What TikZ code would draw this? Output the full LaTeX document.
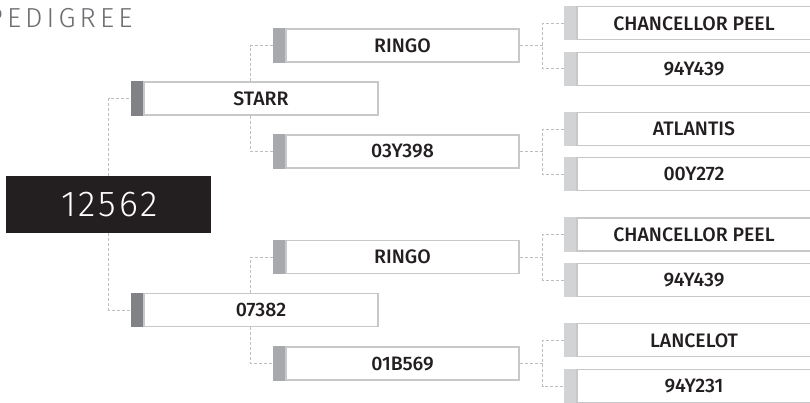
\documentclass[tikz,border=0pt]{standalone}
\usepackage{fontspec}
\setmainfont{Fira Sans}
\newfontfamily\lightfont{Fira Sans Light}
\newfontfamily\rootfont[LetterSpace=8]{Fira Sans Light}
\newfontfamily\titlefont[LetterSpace=15]{Fira Sans Light}
\newfontfamily\medfont{Fira Sans Medium}
\definecolor{titlegray}{HTML}{6D6E71}
\definecolor{tabdark}{HTML}{808285}
\definecolor{tabmid}{HTML}{A7A9AC}
\definecolor{tablight}{HTML}{D1D3D4}
\definecolor{boxline}{HTML}{C7C8CA}
\definecolor{dashcol}{HTML}{BCBEC0}
\definecolor{inkblack}{HTML}{231F20}
\tikzset{
  namebox/.style={draw=boxline, line width=1.1pt, fill=white, minimum height=33pt,
    inner sep=0pt, text=inkblack, font=\medfont\fontsize{19.5}{22}\selectfont},
  leftbox/.style={namebox, minimum width=234pt},
  midbox/.style={namebox, minimum width=233pt},
  rightbox/.style={namebox, minimum width=234pt},
  tabbox/.style={inner sep=0pt, minimum width=12pt, minimum height=34.1pt, anchor=east},
  tabL/.style={tabbox, fill=tabdark},
  tabM/.style={tabbox, fill=tabmid},
  tabR/.style={tabbox, fill=tablight},
  conn/.style={draw=dashcol, line width=0.9pt, dash pattern=on 3pt off 2pt},
  rootbox/.style={fill=inkblack, minimum width=205pt, minimum height=57pt, inner sep=0pt,
    text=white, font=\rootfont\fontsize{36}{40}\selectfont},
}
\begin{document}
\begin{tikzpicture}[x=1pt,y=-1pt]
\clip (0,0) rectangle (810,402);
\fill[white] (0,0) rectangle (810,402);

% title
\node[anchor=base west, inner sep=0pt, text=titlegray, font=\titlefont\fontsize{27.5}{30}\selectfont]
  (title) at (-13,27.3) {PEDIGREE};

% coordinates for the dashed junctions
\coordinate (j1) at (250.7,0);
\coordinate (j2) at (542.7,0);

% right column
\node[rightbox] (r1) at (694,23.3) {CHANCELLOR PEEL};
\node[rightbox] (r2) at (694,68.7) {94Y439};
\node[rightbox] (r3) at (694,129) {ATLANTIS};
\node[rightbox] (r4) at (694,174.3) {00Y272};
\node[rightbox] (r5) at (694,234.5) {CHANCELLOR PEEL};
\node[rightbox] (r6) at (694,280.3) {94Y439};
\node[rightbox] (r7) at (694,340.3) {LANCELOT};
\node[rightbox] (r8) at (694,386.3) {94Y231};
\foreach \i in {1,...,8} {\node[tabR] (r\i t) at (r\i.west) {};}

% middle column
\node[midbox] (m1) at (402.5,45.5) {RINGO};
\node[midbox] (m2) at (402.5,151.5) {03Y398};
\node[midbox] (m3) at (402.5,257) {RINGO};
\node[midbox] (m4) at (402.5,363.5) {01B569};
\foreach \i in {1,...,4} {\node[tabM] (m\i t) at (m\i.west) {};}

% left column
\node[leftbox] (l1) at (261,98.5) {STARR};
\node[leftbox] (l2) at (261,310) {07382};
\foreach \i in {1,2} {\node[tabL] (l\i t) at (l\i.west) {};}

% root
\node[rootbox] (root) at (108.5,204.5) {\hspace*{2pt}12562};

% connectors root -> left
\draw[conn] (root.north) |- (l1t.west);
\draw[conn] (root.south) |- (l2t.west);

% left -> middle
\draw[conn] (j1 |- l1.north) |- (m1t.west);
\draw[conn] (j1 |- l1.south) |- (m2t.west);
\draw[conn] (j1 |- l2.north) |- (m3t.west);
\draw[conn] (j1 |- l2.south) |- (m4t.west);

% middle -> right
\draw[conn] (m1.east) -- (j2 |- m1.east);
\draw[conn] (r1t.west) -| (j2 |- m1.east) |- (r2t.west);
\draw[conn] (m2.east) -- (j2 |- m2.east);
\draw[conn] (r3t.west) -| (j2 |- m2.east) |- (r4t.west);
\draw[conn] (m3.east) -- (j2 |- m3.east);
\draw[conn] (r5t.west) -| (j2 |- m3.east) |- (r6t.west);
\draw[conn] (m4.east) -- (j2 |- m4.east);
\draw[conn] (r7t.west) -| (j2 |- m4.east) |- (r8t.west);
\end{tikzpicture}
\end{document}
